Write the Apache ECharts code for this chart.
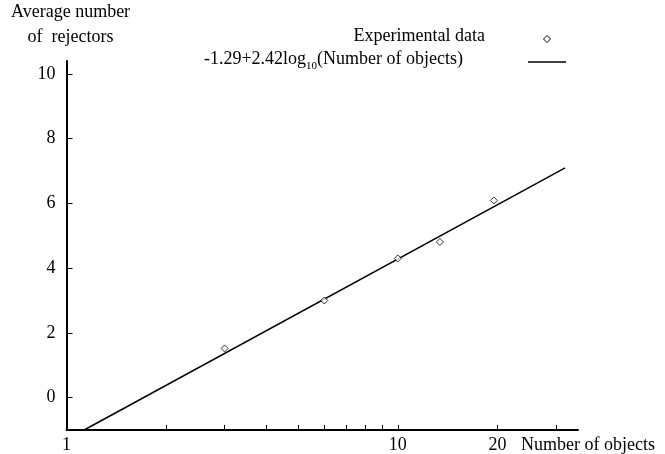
<!DOCTYPE html>
<html><head><meta charset="utf-8">
<script src="https://cdn.jsdelivr.net/npm/echarts@6/dist/echarts.min.js"></script>
<style>html,body{margin:0;padding:0;background:#fff}#c{width:665px;height:454px}</style>
</head><body><div id="c"></div>
<script>
const objects = [3, 6, 10, 13.4, 19.5];
const rejectors = [1.52, 3.0, 4.3, 4.81, 6.09];
const fitX = [1.13, 32];
const fitY = [-1, 7.1];
const xTickValues = [1, 2, 3, 4, 5, 6, 7, 8, 9, 10, 20, 30];
const xLabelValues = [1, 10, 20];
const yTickValues = [0, 2, 4, 6, 8, 10];

const FONT = 'Liberation Serif';
const FS = 18;
const chart = echarts.init(document.getElementById('c'));
chart.setOption({
  animation: false,
  backgroundColor: '#fff',
  grid: { left: 65, right: 87, top: 61, bottom: 22, containLabel: false },
  xAxis: {
    type: 'log', logBase: 10, min: 1, max: 35,
    name: 'Number of objects', nameLocation: 'end', nameGap: -57,
    nameTextStyle: { fontFamily: FONT, fontSize: FS, color: '#000', align: 'left', verticalAlign: 'top', padding: [6, 0, 0, 0] },
    axisLine: { onZero: false, lineStyle: { color: '#000', width: 2 } },
    axisTick: { inside: true, length: 5, customValues: xTickValues, lineStyle: { color: '#000', width: 1 } },
    axisLabel: { customValues: xLabelValues, fontFamily: FONT, fontSize: FS, color: '#000', margin: 6 },
    splitLine: { show: false }, minorTick: { show: false }
  },
  yAxis: {
    type: 'value', min: -1, max: 10.4,
    name: 'Average number\nof  rejectors', nameLocation: 'end', nameGap: 11,
    nameTextStyle: { fontFamily: FONT, fontSize: FS, color: '#000', align: 'center', verticalAlign: 'bottom', lineHeight: 25, padding: [0, 0, 0, 8] },
    axisLine: { onZero: false, lineStyle: { color: '#000', width: 2 } },
    axisTick: { inside: true, length: 6, customValues: yTickValues, lineStyle: { color: '#000', width: 1 } },
    axisLabel: { customValues: yTickValues, fontFamily: FONT, fontSize: FS, color: '#000', margin: 11 },
    splitLine: { show: false }
  },
  graphic: [
    { type: 'text', right: 180, top: 27, style: { text: 'Experimental data', font: FS + 'px "' + FONT + '"', fill: '#000' } },
    { type: 'text', right: 202, top: 50, style: {
      text: '{a|-1.29+2.42log}{s|10}{a|(Number of objects)}', fill: '#000',
      rich: {
        a: { fontFamily: FONT, fontSize: FS, verticalAlign: 'bottom', padding: [0, 0, 4, 0] },
        s: { fontFamily: FONT, fontSize: 11, verticalAlign: 'bottom' }
      } } },
    { type: 'polygon', shape: { points: [[547, 35.5], [550.5, 39], [547, 42.5], [543.5, 39]] }, style: { fill: '#fff', stroke: '#000', lineWidth: 1 } },
    { type: 'line', shape: { x1: 528, y1: 62, x2: 566, y2: 62 }, style: { stroke: '#000', lineWidth: 1.5 } }
  ],
  series: [
    { type: 'scatter', data: objects.map((x, i) => [x, rejectors[i]]), symbol: 'diamond', symbolSize: 7,
      itemStyle: { color: '#fff', borderColor: '#000', borderWidth: 1 } },
    { type: 'line', data: fitX.map((x, i) => [x, fitY[i]]), symbol: 'none', lineStyle: { color: '#000', width: 1.5 }, z: 1 }
  ]
});
</script></body></html>
